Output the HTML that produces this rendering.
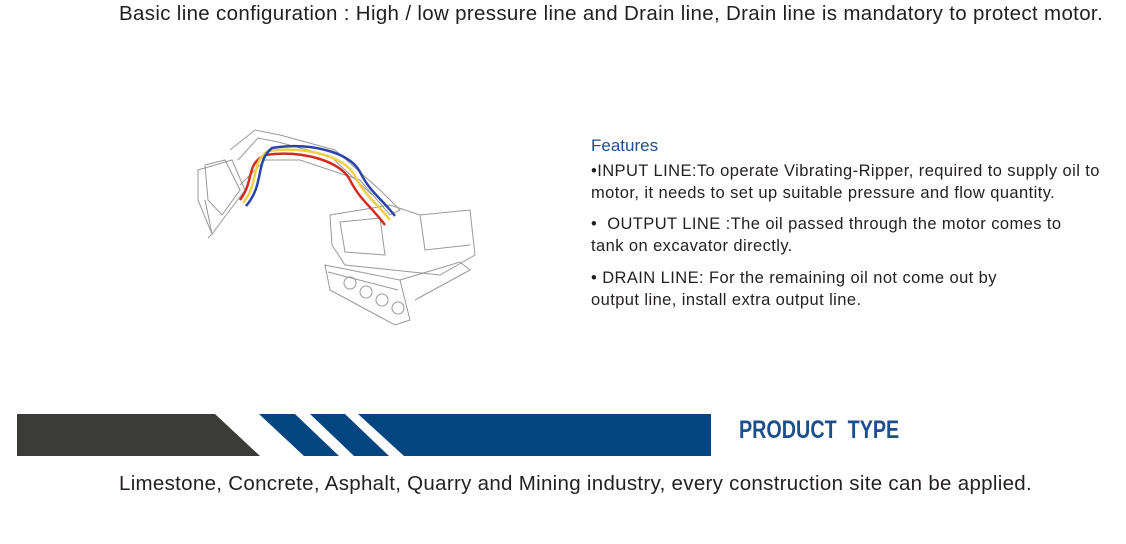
<!DOCTYPE html>
<html><head><meta charset="utf-8"><style>
body{margin:0;width:1126px;height:544px;background:#fff;position:relative;overflow:hidden;font-family:"Liberation Sans",sans-serif;color:#231f20}
.t{position:absolute;white-space:nowrap}
</style></head><body>
<div class="t" style="left:119px;top:2px;font-size:20.5px;letter-spacing:0.33px">Basic line configuration : High / low pressure line and Drain line, Drain line is mandatory to protect motor.</div>
<div class="t" style="left:591px;top:136px;font-size:17px;color:#1d4f8c">Features</div>
<div class="t" style="left:591px;top:160px;font-size:16.5px;line-height:22px;letter-spacing:0.42px">•INPUT LINE:To operate Vibrating-Ripper, required to supply oil to<br>motor, it needs to set up suitable pressure and flow quantity.</div>
<div class="t" style="left:591px;top:213px;font-size:16.5px;line-height:22px;letter-spacing:0.42px">•&nbsp; OUTPUT LINE :The oil passed through the motor comes to<br>tank on excavator directly.</div>
<div class="t" style="left:591px;top:267px;font-size:16.5px;line-height:22px;letter-spacing:0.42px">• DRAIN LINE: For the remaining oil not come out by<br>output line, install extra output line.</div>
<svg style="position:absolute;left:0;top:0" width="1126" height="544">
<g fill="none" stroke="#999" stroke-width="1">
<path d="M198 170 L232 160 L245 190 L230 210 L212 234 L198 200 Z"/>
<path d="M205 165 L225 160 L240 190 L222 215 L208 200 Z"/>
<path d="M205 200 L212 234 L208 238"/>
<path d="M230 150 L255 130 L280 135 L335 150 L380 190 L400 210 L390 215 L360 180 L300 160 L265 160 L240 185"/>
<path d="M238 160 L258 138 L278 142 L330 156 L372 195"/>
<path d="M330 215 L390 205 L420 215 L470 210 L475 255 L440 275 L345 265 L332 245 Z"/>
<path d="M340 222 L380 218 L385 255 L345 252 Z"/>
<path d="M420 215 L425 250 L470 245"/>
<path d="M325 265 L400 280 L410 320 L395 325 L330 290 Z"/>
<path d="M328 272 L398 290"/>
<path d="M400 280 L460 262 L470 270 L415 300"/>
<circle cx="350" cy="283" r="6"/><circle cx="366" cy="292" r="6"/><circle cx="382" cy="300" r="6"/><circle cx="398" cy="308" r="6"/>
</g>
<g fill="none" stroke-width="2.5">
<path d="M240 200 C255 180 245 165 265 155 C300 150 340 160 350 180 C360 200 370 205 385 225" stroke="#d62a1f"/>
<path d="M243 203 C260 182 250 163 268 151 C305 146 345 156 355 176 C365 196 375 201 390 220" stroke="#f2d04a"/>
<path d="M246 206 C265 184 255 161 272 148 C310 142 350 152 360 172 C370 192 380 197 395 216" stroke="#2a44a8"/>
</g>
<polygon points="17,414 215,414 260,456 17,456" fill="#3b3b3a"/>
<polygon points="259,414 295,414 339,456 304,456" fill="#024581"/>
<polygon points="310,414 345,414 389,456 354,456" fill="#024581"/>
<polygon points="358,414 711,414 711,456 404,456" fill="#024581"/>
</svg>
<div class="t" style="left:739px;top:416px;font-size:25px;font-weight:bold;color:#1d4f8c;transform:scaleX(0.79);transform-origin:left">PRODUCT&nbsp; TYPE</div>
<div class="t" style="left:119px;top:472px;font-size:20.5px;letter-spacing:0.3px">Limestone, Concrete, Asphalt, Quarry and Mining industry, every construction site can be applied.</div>
</body></html>
